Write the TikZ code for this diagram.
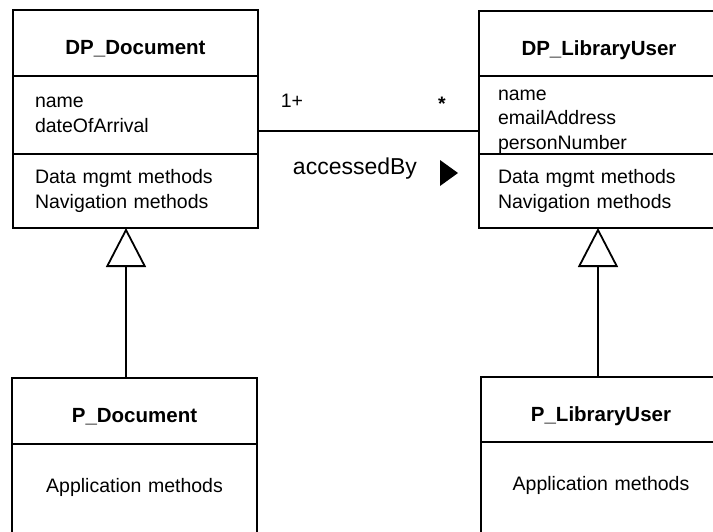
\documentclass[tikz,border=0pt]{standalone}
\usepackage{fontspec}
\setmainfont{Liberation Sans}
\usetikzlibrary{arrows.meta,positioning}

\begin{document}
\begin{tikzpicture}[x=1pt,y=1pt]
\useasboundingbox (0,0) rectangle (713,-531);
\clip (0,0) rectangle (713,-531);
\tikzset{part/.style={draw,line width=2.2pt,outer sep=0pt,inner ysep=0pt,anchor=north}}
\tikzset{ctitle/.style={part,font=\fontsize{20.5}{24}\selectfont\bfseries,text height=26pt,text depth=3pt}}
\tikzset{members/.style={part,font=\fontsize{19.5}{24.5}\selectfont,align=left}}
\tikzset{inherit/.style={-{Triangle[open,length=39pt,width=40pt]},line width=1.8pt}}
\tikzset{assoc/.style={line width=1.8pt}}
% persistent classes
\node[ctitle,minimum width=245pt,minimum height=66pt] (dpdoc) at (135.5,-10) {DP\_Document};
\node[members,text width=201pt,inner xsep=22pt,minimum height=78pt,below=0pt of dpdoc] (dpdocattr) {name\\dateOfArrival};
\node[members,text width=201pt,inner xsep=22pt,minimum height=74pt,below=0pt of dpdocattr] (dpdocmeth) {Data mgmt methods\\Navigation methods};
\node[ctitle,minimum width=240pt,minimum height=65pt] (dpuser) at (599,-11) {DP\_LibraryUser};
\node[members,text width=202pt,inner xsep=19pt,minimum height=78pt,below=0pt of dpuser] (dpuserattr) {\rule{0pt}{24pt}name\\emailAddress\\personNumber};
\node[members,text width=202pt,inner xsep=19pt,minimum height=74pt,below=0pt of dpuserattr] (dpusermeth) {Data mgmt methods\\Navigation methods};
% application classes
\node[ctitle,minimum width=245pt,minimum height=66pt] (pdoc) at (134.5,-378) {P\_Document};
\node[members,align=center,text width=201pt,inner xsep=22pt,minimum height=100pt,text depth=18pt,below=0pt of pdoc] (pdocmeth) {Application methods};
\node[ctitle,minimum width=240pt,minimum height=65pt] (puser) at (601,-377) {P\_LibraryUser};
\node[members,align=center,text width=202pt,inner xsep=19pt,minimum height=100pt,text depth=18pt,below=0pt of puser] (pusermeth) {Application methods};
% generalisation
\draw[inherit] ([xshift=-8.5pt]pdoc.north) -- ([xshift=-8.5pt]pdoc.north |- dpdocmeth.south);
\draw[inherit] ([xshift=-3pt]puser.north) -- ([xshift=-3pt]puser.north |- dpusermeth.south);
% association
\draw[assoc] ([yshift=-16pt]dpdocattr.east) -- ([yshift=-16pt]dpuserattr.west);
\node[font=\fontsize{19.5}{20}\selectfont] (multdoc) at (292,-101) {1+};
\node[font=\fontsize{19.5}{20}\selectfont\bfseries] (multuser) at (442,-104) {*};
\node[font=\fontsize{23}{24}\selectfont] (assocname) at (355,-169) {accessedBy};
\fill (440,-160) -- (458,-173) -- (440,-186) -- cycle;
\end{tikzpicture}
\end{document}
